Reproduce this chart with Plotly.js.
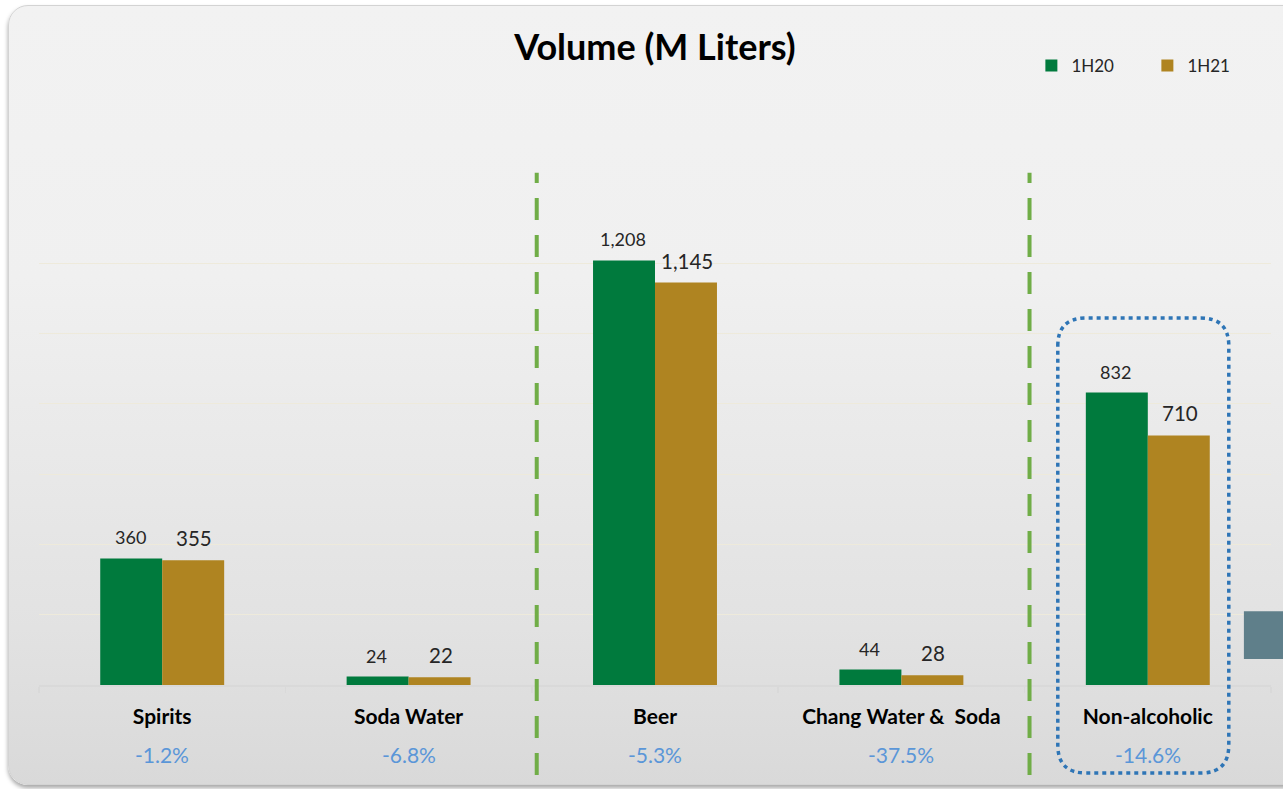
<!DOCTYPE html>
<html>
<head>
<meta charset="utf-8">
<script src="https://cdn.plot.ly/plotly-3.0.1.min.js"></script>
<style>
  html, body { margin:0; padding:0; background:#ffffff; }
  #wrap { position:relative; width:1283px; height:789px; overflow:hidden; background:#ffffff; }
  #card { position:absolute; left:8px; top:5px; width:1310px; height:778px; border-radius:20px;
          border:1px solid #d3d3d3;
          background:linear-gradient(to bottom, #f2f2f2 0%, #f0f0f0 35%, #e2e2e2 80%, #d9d9d9 100%);
          box-shadow:0 3px 4px rgba(0,0,0,0.35); }
  #chart { position:absolute; left:0; top:0; width:1283px; height:789px; }
</style>
</head>
<body>
<div id="wrap"><div id="card"></div><div id="chart"></div></div>
<script>
const categories = ["Spirits", "Soda Water", "Beer", "Chang Water &  Soda", "Non-alcoholic"];
const vol1H20 = [360, 24, 1208, 44, 832];
const vol1H21 = [355, 22, 1145, 28, 710];
const changePct = ["-1.2%", "-6.8%", "-5.3%", "-37.5%", "-14.6%"];
const seriesNames = ["1H20", "1H21"];

const GREEN = "#007A3D", GOLD = "#AF8421";
const FONT = "Lato, 'Open Sans', sans-serif";

const traces = [
  {type:"bar", name:seriesNames[0], x:categories, y:vol1H20, marker:{color:GREEN}, hoverinfo:"skip"},
  {type:"bar", name:seriesNames[1], x:categories, y:vol1H21, marker:{color:GOLD}, hoverinfo:"skip"}
];

const fmt = v => v.toLocaleString("en-US");
const annotations = [];
categories.forEach((c, i) => {
  annotations.push({x:c, y:vol1H20[i], xref:"x", yref:"y", text:fmt(vol1H20[i]), showarrow:false,
    xshift:-32, yshift:21, font:{family:FONT, size:18, color:"#262626"}});
  annotations.push({x:c, y:vol1H21[i], xref:"x", yref:"y", text:fmt(vol1H21[i]), showarrow:false,
    xshift:32, yshift:22, font:{family:FONT, size:20.5, color:"#262626"}});
  annotations.push({x:c, y:-0.142, xref:"x", yref:"paper", text:changePct[i], showarrow:false,
    yanchor:"middle", font:{family:FONT, size:21, color:"#5A96D8"}});
});

const dashLine = xv => ({type:"line", xref:"x", yref:"paper", x0:xv, x1:xv, y0:-0.183, y1:1.041,
  line:{color:"#70AD47", width:4, dash:"22px,15px"}});

const Lx=-90, Rx=81, Ty=367, By=-88, r=28;
const boxPath = `M${Lx},${Ty-r} Q${Lx},${Ty} ${Lx+r},${Ty} L${Rx-r},${Ty} Q${Rx},${Ty} ${Rx},${Ty-r} ` +
  `L${Rx},${By+r} Q${Rx},${By} ${Rx-r},${By} L${Lx+r},${By} Q${Lx},${By} ${Lx},${By+r} Z`;

const layout = {
  width:1283, height:789,
  margin:{l:39, r:12, t:193, b:104, autoexpand:false},
  paper_bgcolor:"rgba(0,0,0,0)", plot_bgcolor:"rgba(0,0,0,0)",
  font:{family:FONT, color:"#000"},
  title:{text:"<b>Volume (M Liters)</b>", x:0.5, xref:"paper", y:0.94, yref:"container", yanchor:"middle",
    font:{family:FONT, size:36, color:"#000"}},
  barmode:"group", bargap:0.497, bargroupgap:0,
  showlegend:true,
  legend:{orientation:"h", x:0.8055, xanchor:"left", y:1.258, yanchor:"middle", bgcolor:"rgba(0,0,0,0)",
    font:{family:FONT, size:17, color:"#262626"}, traceorder:"normal", itemwidth:30,
    entrywidth:71, entrywidthmode:"pixels"},
  xaxis:{type:"category", showline:true, linecolor:"#d9d9d9", linewidth:1.5, ticks:"outside", tickson:"boundaries",
    ticklen:6, tickcolor:"#d9d9d9", tickwidth:1.5, ticklabelstandoff:12, automargin:false,
    tickfont:{family:FONT, size:21, color:"#000", weight:"bold"}, showgrid:false, fixedrange:true},
  yaxis:{range:[0,1400], showgrid:true, gridcolor:"#eeeadb", gridwidth:1.2, showticklabels:false, ticks:"",
    dtick:200, zeroline:false, showline:false, fixedrange:true, automargin:false},
  annotations:annotations,
  shapes:[
    dashLine(1.52), dashLine(3.52),
    {type:"path", xref:"x", yref:"paper", xsizemode:"pixel", ysizemode:"pixel", xanchor:4, yanchor:0,
      path:boxPath, line:{color:"#2E75B6", width:3.5, dash:"4px,4px"}, fillcolor:"rgba(0,0,0,0)"},
    {type:"rect", xref:"paper", yref:"paper", x0:0.978, x1:1.03, y0:0.053, y1:0.150,
      line:{width:0}, fillcolor:"#5F7F8A"}
  ],
  hovermode:false
};

Plotly.newPlot("chart", traces, layout, {displayModeBar:false, staticPlot:true});
</script>
</body>
</html>
